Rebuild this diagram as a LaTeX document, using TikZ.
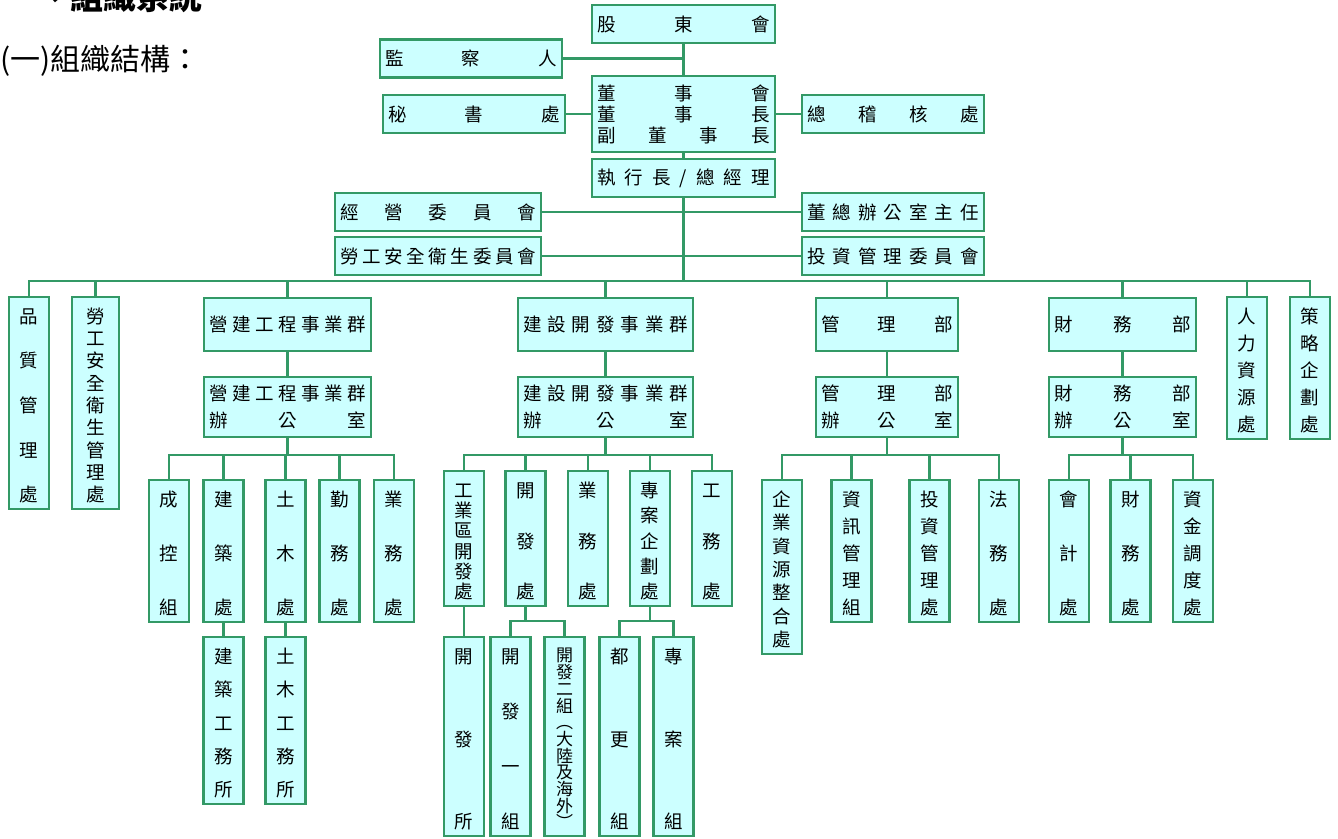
\documentclass[tikz,border=0pt]{standalone}
\usepackage{fontspec}
\newfontfamily\cjk{Noto Sans CJK TC}
\usepackage{tikz}
\definecolor{SeaGreen}{RGB}{51,153,102}
\definecolor{PaleTurq}{RGB}{204,255,255}

% characters spread over the whole line
\newcommand\hsp[1]{\leavevmode\hbox to\linewidth{%
  \foreach \chr [count=\ci] in {#1}{\ifnum\ci>1 \hfill\fi\chr}}}
% characters stacked over a box of height #1 (pt)
\newcommand\vsp[2]{\vbox to \dimexpr#1pt-10pt\relax{\offinterlineskip\kern5pt
  \foreach \chr [count=\ci] in {#2}{\ifnum\ci>1 \vss\fi
    \hbox to 1em{\vrule height .88em depth .12em width 0pt\hss\chr\hss}}}}

\begin{document}
\begin{tikzpicture}[
  x=1pt, y=-1pt,
  hb/.style = {draw=SeaGreen, fill=PaleTurq, line width=2.2pt,
               inner xsep=5pt, inner ysep=0pt, minimum height=38pt,
               font=\cjk\fontsize{18.5}{21}\selectfont, align=center},
  vb/.style = {draw=SeaGreen, fill=PaleTurq, line width=2.2pt,
               inner xsep=0pt, inner ysep=5pt, minimum width=40pt,
               font=\cjk\fontsize{18.5}{21}\selectfont},
  ln/.style = {draw=SeaGreen, line width=2.2pt, line cap=rect},
]
\useasboundingbox (0,0) rectangle (1338,838);

\node[font=\cjk\fontsize{33}{33}\selectfont\bfseries, anchor=base west,
  inner sep=0pt] (ttl) at (37,9) {、組織系統};
\node[font=\cjk\fontsize{30}{30}\selectfont, anchor=base west,
  inner sep=0pt] (sub) at (0,70) {(一)組織結構：};

% top levels
\node[hb, text width=173pt] (gd)  at (683.5, 24) {\hsp{股,東,會}};
\node[hb, text width=172pt] (jc)  at (471, 58.5) {\hsp{監,察,人}};
\node[hb, text width=173pt, minimum height=76pt] (bod) at (683.5,114)
  {\hsp{董,事,會}\\\hsp{董,事,長}\\\hsp{副,董,事,長}};
\node[hb, text width=172pt] (ms)  at (474, 114) {\hsp{秘,書,處}};
\node[hb, text width=172pt] (au)  at (893, 114) {\hsp{總,稽,核,處}};
\node[hb, text width=173pt] (ceo) at (683.5,178) {\hsp{執,行,長,/,總,經,理}};
\node[hb, text width=196pt] (mc)  at (438, 212) {\hsp{經,營,委,員,會}};
\node[hb, text width=196pt] (ls)  at (438, 256) {\hsp{勞,工,安,全,衛,生,委,員,會}};
\node[hb, text width=172pt] (dir) at (893, 212) {\hsp{董,總,辦,公,室,主,任}};
\node[hb, text width=172pt] (inv) at (893, 256) {\hsp{投,資,管,理,委,員,會}};

\draw[ln] (gd) -- (bod);
\draw[ln] (jc.east) -- (jc.east -| gd.south);
\draw[ln] (ms) -- (bod);
\draw[ln] (bod) -- (au);
\draw[ln] (bod) -- (ceo);
\draw[ln] (mc) -- (dir);
\draw[ln] (ls) -- (inv);

% first row under the bus
\node[vb] (q) at (29, 403) {\vsp{210}{品,質,管,理,處}};
\node[vb, minimum width=47pt] (lsm) at (95.5, 403)
  {\vsp{210}{勞,工,安,全,衛,生,管,理,處}};
\node[hb, text width=157pt, minimum height=53pt] (cg) at (287.5,324.5)
  {\hsp{營,建,工,程,事,業,群}};
\node[hb, text width=165pt, minimum height=53pt] (dg) at (605.5,324.5)
  {\hsp{建,設,開,發,事,業,群}};
\node[hb, text width=132pt, minimum height=53pt] (mg) at (887,324.5)
  {\hsp{管,理,部}};
\node[hb, text width=137pt, minimum height=53pt] (fg) at (1122.5,324.5)
  {\hsp{財,務,部}};
\node[vb] (hr) at (1247, 368) {\vsp{140}{人,力,資,源,處}};
\node[vb] (sp) at (1310, 368) {\vsp{140}{策,略,企,劃,處}};

\coordinate (bus) at (0,281);
\draw[ln] (ceo) -- (ceo |- bus);
\draw[ln] (q |- bus) -- (sp |- bus);
\foreach \n in {q,lsm,cg,dg,mg,fg,hr,sp}
  \draw[ln] (\n) -- (\n |- bus);

% offices
\node[hb, text width=157pt, minimum height=60pt,
  font=\cjk\fontsize{18.5}{27}\selectfont] (cgo) at (287.5,407)
  {\hsp{營,建,工,程,事,業,群}\\\hsp{辦,公,室}};
\node[hb, text width=165pt, minimum height=60pt,
  font=\cjk\fontsize{18.5}{27}\selectfont] (dgo) at (605.5,407)
  {\hsp{建,設,開,發,事,業,群}\\\hsp{辦,公,室}};
\node[hb, text width=132pt, minimum height=60pt,
  font=\cjk\fontsize{18.5}{27}\selectfont] (mgo) at (887,407)
  {\hsp{管,理,部}\\\hsp{辦,公,室}};
\node[hb, text width=137pt, minimum height=60pt,
  font=\cjk\fontsize{18.5}{27}\selectfont] (fgo) at (1122.5,407)
  {\hsp{財,務,部}\\\hsp{辦,公,室}};

\foreach \n in {cg,dg,mg,fg}
  \draw[ln] (\n) -- (\n o);

% third row
\node[vb] (c1) at (169,   551) {\vsp{140}{成,控,組}};
\node[vb] (c2) at (223.5, 551) {\vsp{140}{建,築,處}};
\node[vb] (c3) at (285.5, 551) {\vsp{140}{土,木,處}};
\node[vb] (c4) at (339.5, 551) {\vsp{140}{勤,務,處}};
\node[vb] (c5) at (394,   551) {\vsp{140}{業,務,處}};

\node[vb] (d1) at (464,   538.5) {\vsp{133}{工,業,區,開,發,處}};
\node[vb] (d2) at (525.5, 538.5) {\vsp{133}{開,發,處}};
\node[vb] (d3) at (588,   538.5) {\vsp{133}{業,務,處}};
\node[vb] (d4) at (650,   538.5) {\vsp{133}{專,案,企,劃,處}};
\node[vb] (d5) at (712,   538.5) {\vsp{133}{工,務,處}};

\node[vb] (m1) at (782,   567) {\vsp{172}{企,業,資,源,整,合,處}};
\node[vb] (m2) at (851.5, 551) {\vsp{140}{資,訊,管,理,組}};
\node[vb] (m3) at (929.5, 551) {\vsp{140}{投,資,管,理,處}};
\node[vb] (m4) at (999,   551) {\vsp{140}{法,務,處}};

\node[vb] (f1) at (1069,   551) {\vsp{140}{會,計,處}};
\node[vb] (f2) at (1130.5, 551) {\vsp{140}{財,務,處}};
\node[vb] (f3) at (1193,   551) {\vsp{140}{資,金,調,度,處}};

\coordinate (sb) at (0,455);
\foreach \o/\a/\b in {cgo/c1/c5, dgo/d1/d5, mgo/m1/m4, fgo/f1/f3}{
  \draw[ln] (\o) -- (\o |- sb);
  \draw[ln] (\a |- sb) -- (\b |- sb);
}
\foreach \n in {c1,c2,c3,c4,c5,d1,d2,d3,d4,d5,m1,m2,m3,m4,f1,f2,f3}
  \draw[ln] (\n) -- (\n |- sb);

% fourth row
\node[vb] (c2b) at (223.5, 720.5) {\vsp{165}{建,築,工,務,所}};
\node[vb] (c3b) at (285.5, 720.5) {\vsp{165}{土,木,工,務,所}};

\node[vb] (d1b) at (464,   736.5) {\vsp{197}{開,發,所}};
\node[vb] (d2a) at (510.5, 736.5) {\vsp{197}{開,發,一,組}};
\node[vb, font=\cjk\fontsize{17}{19}\selectfont] (d2b) at (564.5, 736.5)
  {\vsp{197}{開,發,二,組,︵,大,陸,及,海,外,︶}};
\node[vb] (d4a) at (619.5, 736.5) {\vsp{197}{都,更,組}};
\node[vb] (d4b) at (673.5, 736.5) {\vsp{197}{專,案,組}};

\draw[ln] (c2) -- (c2b);
\draw[ln] (c3) -- (c3b);
\draw[ln] (d1) -- (d1b);

\coordinate (lb) at (0,621);
\foreach \o/\a/\b in {d2/d2a/d2b, d4/d4a/d4b}{
  \draw[ln] (\o) -- (\o |- lb);
  \draw[ln] (\a |- lb) -- (\b |- lb);
  \draw[ln] (\a) -- (\a |- lb);
  \draw[ln] (\b) -- (\b |- lb);
}

\end{tikzpicture}
\end{document}
